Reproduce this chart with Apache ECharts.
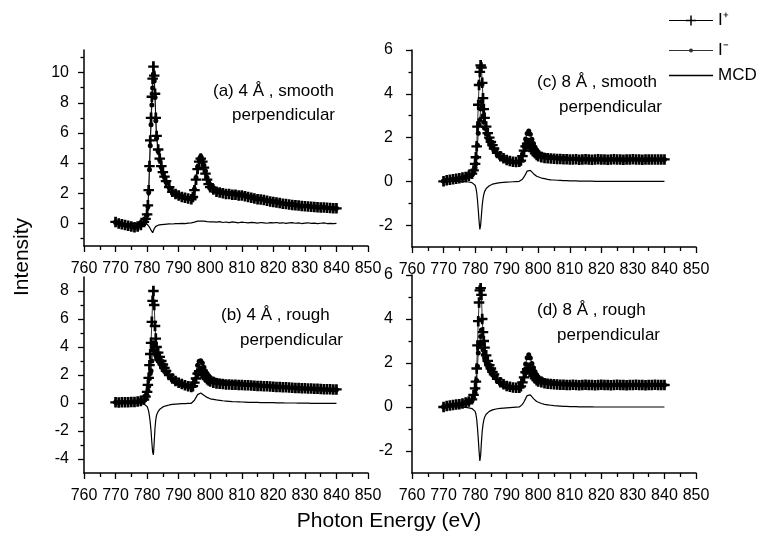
<!DOCTYPE html>
<html><head><meta charset="utf-8">
<script src="https://cdn.jsdelivr.net/npm/echarts@6/dist/echarts.min.js"></script>
<style>html,body{margin:0;padding:0;background:#fff}#c{width:760px;height:547px}</style>
</head><body><div id="c"></div>
<script>
// ---- data ----
const energy = [770,771,772,773,774,775,776,777,778,779,
779.5,780,780.25,780.5,780.75,781,781.25,781.5,781.75,782,
782.25,782.5,782.75,783,783.5,784,784.5,785,785.5,786,
787,788,789,790,791,792,793,794,794.5,795,
795.5,796,796.5,797,797.5,798,798.5,799,799.5,800,
801,802,803,804,805,806,807,808,809,810,
811,812,813,814,815,816,817,818,819,820,
821,822,823,824,825,826,827,828,829,830,
831,832,833,834,835,836,837,838,839,840];

const xTicks = [760,770,780,790,800,810,820,830,840,850];

// (a) 4 A smooth
const aPlus = [0.1,0.0,-0.05,-0.1,-0.15,-0.2,-0.25,-0.2,-0.1,0.1,
0.3,0.6,1.2,2.2,3.8,5.5,7.0,8.4,9.6,10.4,
9.8,8.6,7.0,5.8,4.9,4.3,3.8,3.4,3.1,2.8,
2.4,2.1,1.95,1.85,1.75,1.7,1.65,1.6,1.75,2.2,
2.9,3.6,4.1,4.3,4.1,3.7,3.3,2.9,2.6,2.4,
2.25,2.1,2.05,2.0,1.95,1.95,1.9,1.9,1.85,1.85,
1.8,1.75,1.7,1.65,1.6,1.58,1.55,1.5,1.45,1.42,
1.38,1.35,1.3,1.28,1.25,1.22,1.2,1.18,1.15,1.13,
1.12,1.1,1.08,1.07,1.05,1.05,1.03,1.02,1.0,1.0];
const aMinus = [0.1,0.02,-0.07,-0.1,-0.18,-0.19,-0.27,-0.2,-0.08,0.05,
0.28,0.55,1.1,2.05,3.55,5.15,6.55,7.85,8.98,9.9,
9.45,8.35,6.8,5.65,4.78,4.2,3.72,3.33,3.04,2.75,
2.37,2.06,1.93,1.83,1.75,1.69,1.67,1.63,1.8,2.28,
3.02,3.75,4.27,4.45,4.22,3.85,3.48,3.02,2.74,2.5,
2.35,2.18,2.17,2.06,2.04,2.0,2.0,1.97,1.89,1.93,
1.86,1.78,1.77,1.7,1.62,1.64,1.59,1.51,1.5,1.45,
1.44,1.37,1.34,1.28,1.28,1.27,1.21,1.21,1.14,1.15,
1.16,1.1,1.1,1.05,1.06,1.08,1.02,1.02,0.98,1.0];
const aMcd = [0.0,0.02,-0.02,0.0,-0.03,0.01,-0.02,0.0,0.02,-0.05,
-0.02,-0.05,-0.1,-0.15,-0.25,-0.35,-0.45,-0.55,-0.62,-0.5,
-0.35,-0.25,-0.2,-0.15,-0.12,-0.1,-0.08,-0.07,-0.06,-0.05,
-0.03,-0.04,-0.02,-0.02,0.0,-0.01,0.02,0.03,0.05,0.08,
0.12,0.15,0.17,0.15,0.12,0.15,0.18,0.12,0.14,0.1,
0.1,0.08,0.12,0.06,0.09,0.05,0.1,0.07,0.04,0.08,
0.06,0.03,0.07,0.05,0.02,0.06,0.04,0.01,0.05,0.03,
0.06,0.02,0.04,0.0,0.03,0.05,0.01,0.03,-0.01,0.02,
0.04,0.0,0.02,-0.02,0.01,0.03,-0.01,0.0,-0.02,0.0];

// (b) 4 A rough
const bPlus = [0.05,0.04,0.05,0.06,0.05,0.07,0.08,0.1,0.15,0.25,
0.45,0.8,1.3,1.8,2.7,3.5,4.3,5.8,7.3,8.0,
7.0,5.5,4.6,4.0,3.6,3.3,3.0,2.75,2.5,2.3,
2.0,1.75,1.57,1.45,1.35,1.27,1.2,1.15,1.2,1.45,
1.75,2.1,2.28,2.3,2.2,2.0,1.82,1.7,1.6,1.53,
1.45,1.4,1.37,1.35,1.33,1.32,1.31,1.3,1.29,1.28,
1.27,1.26,1.25,1.24,1.22,1.21,1.2,1.19,1.18,1.16,
1.15,1.14,1.13,1.12,1.1,1.09,1.08,1.07,1.06,1.05,
1.04,1.03,1.02,1.01,1.0,0.99,0.99,0.98,0.97,0.97];
const bMinus = [0.05,0.04,0.05,0.06,0.05,0.07,0.07,0.08,0.11,0.17,
0.3,0.55,0.9,1.2,1.75,2.1,2.3,3.0,3.8,4.3,
4.2,3.7,3.4,3.15,3.0,2.85,2.65,2.47,2.27,2.1,
1.86,1.65,1.49,1.39,1.3,1.23,1.17,1.13,1.25,1.65,
2.15,2.7,2.98,3.02,2.85,2.55,2.29,2.1,1.95,1.83,
1.71,1.62,1.56,1.51,1.47,1.44,1.41,1.39,1.37,1.35,
1.33,1.31,1.3,1.28,1.26,1.24,1.23,1.21,1.2,1.18,
1.16,1.15,1.14,1.12,1.1,1.09,1.08,1.06,1.05,1.04,
1.03,1.01,1.0,0.99,0.98,0.96,0.96,0.95,0.94,0.94];
const bMcd = [0,0,0,0,0,0,-0.01,-0.02,-0.04,-0.08,
-0.15,-0.25,-0.4,-0.6,-0.95,-1.4,-2.0,-2.8,-3.5,-3.7,
-2.8,-1.8,-1.2,-0.85,-0.6,-0.45,-0.35,-0.28,-0.23,-0.2,
-0.14,-0.1,-0.08,-0.06,-0.05,-0.04,-0.03,-0.02,0.05,0.2,
0.4,0.6,0.7,0.72,0.65,0.55,0.47,0.4,0.35,0.3,
0.26,0.22,0.19,0.16,0.14,0.12,0.1,0.09,0.08,0.07,
0.06,0.05,0.05,0.04,0.04,0.03,0.03,0.02,0.02,0.02,
0.01,0.01,0.01,0.0,0.0,0.0,0.0,-0.01,-0.01,-0.01,
-0.01,-0.02,-0.02,-0.02,-0.02,-0.03,-0.03,-0.03,-0.03,-0.03];

// (c) 8 A smooth
const cPlus = [0.0,0.05,0.07,0.1,0.12,0.14,0.17,0.2,0.25,0.35,
0.5,0.8,1.1,1.6,2.5,3.5,4.4,5.0,5.3,5.2,
4.5,3.8,3.3,2.9,2.5,2.2,2.0,1.8,1.65,1.5,
1.3,1.15,1.05,0.98,0.93,0.9,0.88,0.9,0.95,1.15,
1.4,1.6,1.72,1.75,1.65,1.5,1.38,1.28,1.2,1.15,
1.1,1.07,1.05,1.04,1.03,1.02,1.02,1.01,1.01,1.0,
1.0,1.01,0.99,1.0,1.01,1.0,0.99,1.0,1.01,1.0,
1.0,0.99,1.0,1.01,1.0,1.0,0.99,1.0,1.0,1.01,
1.0,1.0,0.99,1.0,1.0,1.0,1.0,1.0,1.0,1.0];
const cMinus = [0.0,0.05,0.07,0.1,0.12,0.14,0.16,0.18,0.22,0.29,
0.4,0.62,0.8,1.1,1.65,2.2,2.6,2.8,3.3,3.65,
3.4,3.0,2.7,2.43,2.17,1.95,1.8,1.64,1.52,1.39,
1.22,1.09,1.0,0.94,0.9,0.88,0.87,0.9,0.98,1.25,
1.6,1.93,2.19,2.3,2.15,1.92,1.73,1.56,1.43,1.34,
1.25,1.19,1.14,1.11,1.09,1.07,1.06,1.04,1.04,1.02,
1.02,1.03,1.0,1.01,1.02,1.01,1.0,1.0,1.01,1.0,
1.0,0.99,1.0,1.01,1.0,1.0,0.99,1.0,1.0,1.01,
1.0,1.0,0.99,1.0,1.0,1.0,1.0,1.0,1.0,1.0];
const cMcd = [0,0,0,0,0,0,-0.01,-0.02,-0.03,-0.06,
-0.1,-0.18,-0.3,-0.5,-0.85,-1.3,-1.8,-2.2,-2.0,-1.55,
-1.1,-0.8,-0.6,-0.47,-0.33,-0.25,-0.2,-0.16,-0.13,-0.11,
-0.08,-0.06,-0.05,-0.04,-0.03,-0.02,-0.01,0.0,0.03,0.1,
0.2,0.33,0.47,0.55,0.5,0.42,0.35,0.28,0.23,0.19,
0.15,0.12,0.09,0.07,0.06,0.05,0.04,0.03,0.03,0.02,
0.02,0.02,0.01,0.01,0.01,0.01,0.01,0,0,0,
0,0,0,0,0,0,0,0,0,0,
0,0,0,0,0,0,0,0,0,0];

// (d) 8 A rough
const dPlus = [0.0,0.05,0.07,0.09,0.11,0.13,0.16,0.2,0.25,0.35,
0.55,0.85,1.15,1.75,2.8,3.9,4.75,5.3,5.4,5.1,
4.0,3.4,3.0,2.7,2.35,2.1,1.9,1.75,1.6,1.48,
1.28,1.13,1.03,0.96,0.92,0.89,0.87,0.88,0.94,1.12,
1.35,1.58,1.72,1.78,1.68,1.52,1.4,1.3,1.22,1.16,
1.12,1.08,1.06,1.04,1.03,1.02,1.01,1.01,1.0,1.0,
1.01,1.0,0.99,1.0,1.01,1.0,1.0,0.99,1.0,1.01,
1.0,1.0,0.99,1.0,1.01,1.0,1.0,0.99,1.0,1.0,
1.01,1.0,1.0,0.99,1.0,1.0,1.01,1.0,1.0,1.0];
const dMinus = [0.0,0.05,0.07,0.09,0.11,0.12,0.15,0.18,0.21,0.28,
0.43,0.65,0.83,1.2,1.85,2.45,2.75,2.85,3.2,3.5,
2.9,2.6,2.4,2.23,2.02,1.85,1.7,1.59,1.47,1.37,
1.2,1.07,0.98,0.92,0.89,0.87,0.86,0.88,0.98,1.24,
1.59,1.96,2.24,2.38,2.23,1.98,1.78,1.6,1.47,1.36,
1.28,1.2,1.16,1.12,1.09,1.07,1.05,1.04,1.03,1.02,
1.03,1.02,1.0,1.01,1.02,1.01,1.01,0.99,1.0,1.01,
1.0,1.0,0.99,1.0,1.01,1.0,1.0,0.99,1.0,1.0,
1.01,1.0,1.0,0.99,1.0,1.0,1.01,1.0,1.0,1.0];
const dMcd = [0,0,0,0,0,-0.01,-0.01,-0.02,-0.04,-0.07,
-0.12,-0.2,-0.32,-0.55,-0.95,-1.45,-2.0,-2.45,-2.2,-1.6,
-1.1,-0.8,-0.6,-0.47,-0.33,-0.25,-0.2,-0.16,-0.13,-0.11,
-0.08,-0.06,-0.05,-0.04,-0.03,-0.02,-0.01,0.0,0.04,0.12,
0.24,0.38,0.52,0.6,0.55,0.46,0.38,0.3,0.25,0.2,
0.16,0.12,0.1,0.08,0.06,0.05,0.04,0.03,0.03,0.02,
0.02,0.02,0.01,0.01,0.01,0.01,0.01,0,0,0,
0,0,0,0,0,0,0,0,0,0,
0,0,0,0,0,0,0,0,0,0];

const seriesNames = ['I\u207A', 'I\u207B', 'MCD'];
const panelTitles = [
  ['(a) 4 \u00C5 , smooth', 'perpendicular'],
  ['(c) 8 \u00C5 , smooth', 'perpendicular'],
  ['(b) 4 \u00C5 , rough', 'perpendicular'],
  ['(d) 8 \u00C5 , rough', 'perpendicular']
];
const yLabelsA = [0,2,4,6,8,10], yMinorA = [-1,1,3,5,7,9,11];
const yLabelsB = [-4,-2,0,2,4,6,8], yMinorB = [-3,-1,1,3,5,7];
const yLabelsC = [-2,0,2,4,6], yMinorC = [-1,1,3,5];
const xTitle = 'Photon Energy (eV)';
const yTitle = 'Intensity';

// ---- layout / styles ----
const FONT = '"Liberation Sans", Arial, Helvetica, sans-serif';
const PLUS = 'path://M3.7,0H6.3V10H3.7Z M0,3.9H10V6.1H0Z';
const panels = [
  {grid:{left:84,top:50,width:284,height:196}, min:-1.5, max:11.5, labels:yLabelsA, minor:yMinorA, lm:15, d:[aPlus,aMinus,aMcd], t:panelTitles[0], tx:[213,232], ty:[91,115]},
  {grid:{left:412,top:50,width:284,height:197}, min:-3, max:6, labels:yLabelsC, minor:yMinorC, lm:19, d:[cPlus,cMinus,cMcd], t:panelTitles[1], tx:[537,559], ty:[82,107]},
  {grid:{left:84,top:277,width:284,height:196}, min:-5, max:9, labels:yLabelsB, minor:yMinorB, lm:15, d:[bPlus,bMinus,bMcd], t:panelTitles[2], tx:[221,240], ty:[315,340]},
  {grid:{left:412,top:275,width:284,height:198}, min:-3, max:6, labels:yLabelsC, minor:yMinorC, lm:19, d:[dPlus,dMinus,dMcd], t:panelTitles[3], tx:[537,557], ty:[310,335]}
];
const pair = ys => energy.map((e, i) => [e, ys[i]]);
const BLACK = '#000';

const grid = [], xAxis = [], yAxis = [], series = [], graphic = [];
panels.forEach((p, gi) => {
  grid.push(p.grid);
  xAxis.push({
    type:'value', gridIndex:gi, min:xTicks[0], max:xTicks[xTicks.length-1], interval:10,
    axisLine:{show:true, onZero:false, lineStyle:{color:BLACK, width:1.5}},
    axisTick:{show:true, length:6, lineStyle:{color:BLACK, width:1.3}},
    minorTick:{show:true, splitNumber:2, length:4, lineStyle:{color:BLACK, width:1.3}},
    axisLabel:{color:BLACK, fontSize:16, fontFamily:FONT, margin:15},
    splitLine:{show:false}
  });
  // main axis: line + labels
  yAxis.push({
    type:'value', gridIndex:gi, min:p.min, max:p.max, position:'left',
    axisLine:{show:true, onZero:false, lineStyle:{color:BLACK, width:1.5}},
    axisTick:{show:false},
    axisLabel:{color:BLACK, fontSize:16, fontFamily:FONT, margin:p.lm, customValues:p.labels},
    splitLine:{show:false}
  });
  // major ticks
  yAxis.push({
    type:'value', gridIndex:gi, min:p.min, max:p.max, position:'left',
    axisLine:{show:false, onZero:false},
    axisTick:{show:true, length:6, customValues:p.labels, lineStyle:{color:BLACK, width:1.3}},
    axisLabel:{show:false},
    splitLine:{show:false}
  });
  // minor ticks
  yAxis.push({
    type:'value', gridIndex:gi, min:p.min, max:p.max, position:'left',
    axisLine:{show:false, onZero:false},
    axisTick:{show:true, length:3.5, customValues:p.minor, lineStyle:{color:BLACK, width:1.3}},
    axisLabel:{show:false},
    splitLine:{show:false}
  });
  const yi = gi * 3;
  series.push({
    name:seriesNames[0], type:'line', xAxisIndex:gi, yAxisIndex:yi, data:pair(p.d[0]),
    symbol:PLUS, symbolSize:10.5, showSymbol:true, itemStyle:{color:BLACK},
    lineStyle:{color:BLACK, width:0.8}
  });
  series.push({
    name:seriesNames[1], type:'line', xAxisIndex:gi, yAxisIndex:yi, data:pair(p.d[1]),
    symbol:'circle', symbolSize:5, showSymbol:true, itemStyle:{color:BLACK},
    lineStyle:{color:BLACK, width:0.8}
  });
  series.push({
    name:seriesNames[2], type:'line', xAxisIndex:gi, yAxisIndex:yi, data:pair(p.d[2]),
    symbol:'none', itemStyle:{color:BLACK}, lineStyle:{color:BLACK, width:1.2}
  });
  p.t.forEach((txt, k) => {
    graphic.push({type:'text', x:p.tx[k], y:p.ty[k], silent:true,
      style:{text:txt, fontSize:17, fontFamily:FONT, fill:BLACK, verticalAlign:'middle'}});
  });
});
graphic.push({type:'text', x:22, y:257, rotation:Math.PI/2, silent:true,
  style:{text:yTitle, fontSize:21, fontFamily:FONT, fill:BLACK, align:'center', verticalAlign:'middle'}});
graphic.push({type:'text', x:389, y:521, silent:true,
  style:{text:xTitle, fontSize:21, fontFamily:FONT, fill:BLACK, align:'center', verticalAlign:'middle'}});

const legTxt = {fontSize:17, fontFamily:FONT, color:BLACK};
const legend = [
  {data:[{name:seriesNames[0], icon:'path://M0,4.5H44V5.5H0Z M21.25,0H22.75V10H21.25Z M17,4.25H27V5.75H17Z'}],
   left:669, top:12, itemWidth:44, itemHeight:10, padding:0, selectedMode:false, textStyle:legTxt},
  {data:[{name:seriesNames[1], icon:'path://M0,2H44V3H0Z M22,0.5A2,2 0 1 1 22,4.5A2,2 0 1 1 22,0.5Z'}],
   left:669, top:42, itemWidth:44, itemHeight:5, padding:0, selectedMode:false, textStyle:legTxt,
   itemStyle:{color:'#333'}},
  {data:[{name:seriesNames[2], icon:'rect'}],
   left:669, top:67, itemWidth:44, itemHeight:1.5, padding:0, selectedMode:false, textStyle:legTxt,
   itemStyle:{color:BLACK}}
];

const chart = echarts.init(document.getElementById('c'), null, {renderer:'canvas'});
chart.setOption({
  animation:false, backgroundColor:'#fff',
  grid, xAxis, yAxis, series, graphic, legend
});
</script>
</body></html>
